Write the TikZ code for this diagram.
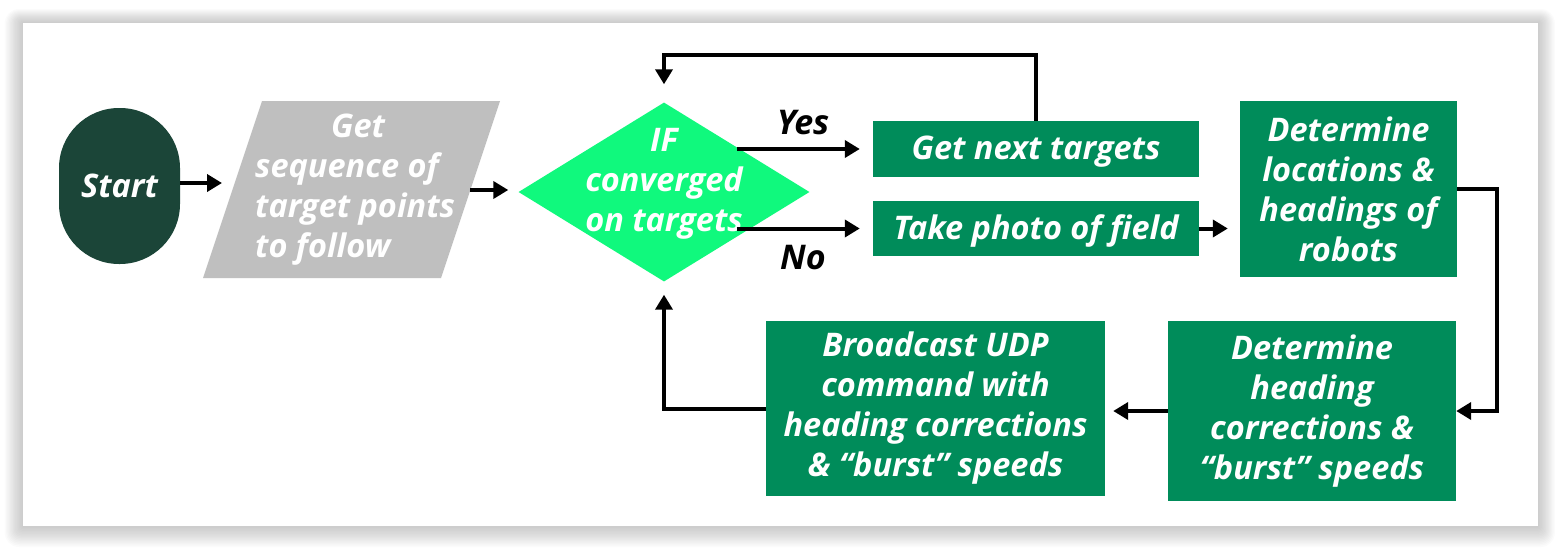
\documentclass[tikz,border=0pt]{standalone}
\usepackage{fontspec}
\setmainfont{Open Sans}
\usetikzlibrary{arrows.meta,shapes.geometric}
\definecolor{boxgreen}{HTML}{008C5A}
\definecolor{startgreen}{HTML}{1B4538}
\definecolor{diagreen}{HTML}{10F97D}
\definecolor{paragray}{HTML}{BFBFBF}
\tikzset{
  lbl/.style={font=\bfseries\itshape\fontsize{32.5}{40}\selectfont, align=center, inner sep=0pt},
  gbox/.style={lbl, fill=boxgreen, text=white},
  conn/.style={line width=4pt, -{Triangle[length=15pt,width=17pt]}},
}
\begin{document}
\begin{tikzpicture}[x=1pt,y=-1pt]
\useasboundingbox (0,0) rectangle (1561,549);
% shadow
\foreach \i in {1,...,14}{
  \fill[black, opacity=0.017, rounded corners=\i pt] (23-\i*1.3,23-\i*1.0) rectangle (1538+\i*1.2,526+\i*1.5);
}
\fill[white] (23,23) rectangle (1538,526);

% nodes
\node[gbox, fill=startgreen, minimum width=121pt, minimum height=156pt, rounded corners=60pt] (start) at (119.5,186) {Start};

\coordinate (p1) at (262,101);
\coordinate (p2) at (500,101);
\coordinate (p3) at (441,278);
\coordinate (p4) at (203,278);
\fill[paragray] (p1) -- (p2) -- (p3) -- (p4) -- cycle;
\node[lbl, text=white, align=left, anchor=west] (para) at (255,190) {\hspace*{76pt}Get\\sequence of\\target points\\to follow};
\coordinate (pl) at (235,183);
\coordinate (pr) at (470,190);

\node[diamond, fill=diagreen, minimum width=291pt, minimum height=179pt, inner sep=0pt] (dec) at (664,192) {};
\node[lbl, text=white] (dectext) at (664,184) {IF\\converged\\on targets};

\node[gbox, minimum width=326pt, minimum height=56pt, text depth=2pt] (getnext) at (1036,149) {Get next targets};
\node[gbox, minimum width=326pt, minimum height=55pt, text depth=2pt] (take) at (1036,228.5) {Take photo of field};
\node[gbox, minimum width=217pt, minimum height=176pt] (det1) at (1348.5,189) {Determine\\locations \&\\headings of\\robots};
\node[gbox, minimum width=288pt, minimum height=180pt] (det2) at (1312,411) {Determine\\heading\\corrections \&\\“burst” speeds};
\node[gbox, minimum width=339pt, minimum height=175pt] (broad) at (935.5,408.5) {Broadcast UDP\\command with\\heading corrections\\\& “burst” speeds};

\node[lbl, font=\bfseries\itshape\fontsize{34}{40}\selectfont] (yes) at (803,123) {Yes};
\node[lbl, font=\bfseries\itshape\fontsize{34}{40}\selectfont] (no) at (803,258) {No};

% connectors
\draw[conn, shorten >=13pt] (start.east |- pl) -- (pl);
\draw[conn, shorten >=10pt] (pr) -- (pr -| dec.west);
\draw[conn, shorten >=13pt] (getnext.west -| dec.north east) -- (getnext.west);
\draw[conn, shorten >=13pt] (take.west -| dec.south east) -- (take.west);
\draw[conn, shorten >=12pt] (take.east) -- (take.east -| det1.west);
\draw[conn, shorten >=18pt] (getnext.north) -- ++(0,-66) -| (dec.north);
\draw[conn] (det1.east) -- ++(40,0) |- (det2.east);
\draw[conn, shorten >=8pt] (det2.west) -- (det2.west -| broad.east);
\draw[conn, shorten >=13pt] (broad.west) -| (dec.south);
\end{tikzpicture}
\end{document}
